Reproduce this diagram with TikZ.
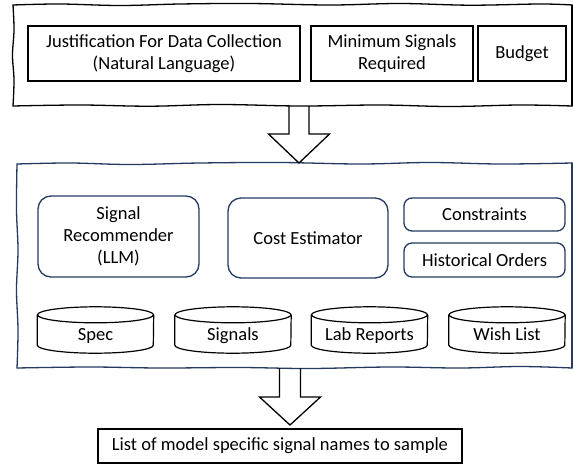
\documentclass[tikz,border=0pt]{standalone}
\usepackage{fontspec}
\setmainfont{Carlito}
\usetikzlibrary{calc}
\definecolor{navy}{RGB}{36,58,98}
\tikzset{
  sketch/.style={line width=1.3pt, line cap=round, line join=round},
  sqbox/.style={draw=black, line width=1.3pt, align=center, inner sep=0pt},
  rbox/.style={draw=navy, line width=1.3pt, rounded corners=13pt, align=center, inner sep=0pt},
  sbox/.style={draw=navy, line width=1.3pt, rounded corners=8pt, align=center, inner sep=0pt},
  cyltext/.style={inner sep=0pt, minimum width=116pt, minimum height=46pt},
  cyllabel/.style={anchor=base, inner sep=0pt},
  cylline/.style={draw=black, line width=1.2pt},
  blockarr/.style={draw=black, line width=1.3pt, line join=miter}
}
\newcommand{\cylinder}[1]{%
  \draw[cylline] ($(#1.north west)+(0,8)$) -- ($(#1.south west)+(0,-8)$)
    arc[start angle=180, end angle=360, x radius=58pt, y radius=8pt]
    -- ($(#1.north east)+(0,8)$);
  \draw[cylline] ($(#1.north)+(0,8)$) ellipse [x radius=58pt, y radius=8pt];
}
\begin{document}
\begin{tikzpicture}[x=1pt, y=-1pt, font=\fontsize{18.5}{22}\selectfont]
\useasboundingbox (0,0) rectangle (573,464);
\fill[white] (0,0) rectangle (573,464);

% ---- top container (sketchy) ----
\draw[sketch] plot[smooth, tension=0.6] coordinates {(13,5) (60,4) (120,5.5) (180,4) (250,3.5) (330,5) (400,3.5) (470,5.2) (540,4) (572,5)};
\draw[sketch] (572,5) -- (572,106);
\draw[sketch] plot[smooth, tension=0.6] coordinates {(572,106) (520,105) (450,106.5) (380,105) (300,106) (220,104.5) (150,106.2) (80,105) (13,106)};
\draw[sketch] plot[smooth, tension=0.6] coordinates {(13,106) (14,80) (12.5,55) (14,30) (13,5)};

\node[sqbox, minimum width=272pt, minimum height=55pt] (just) at (164,53.5) {Justification For Data Collection\\(Natural Language)};
\node[sqbox, minimum width=162pt, minimum height=55pt] (minsig) at (392,53.5) {Minimum Signals\\Required};
\node[sqbox, minimum width=88pt, minimum height=55pt] (budget) at (522,53.5) {Budget};

% ---- middle container (sketchy, navy) ----
\draw[sketch, navy] plot[smooth, tension=0.6] coordinates {(17,164) (70,163) (130,164.5) (200,163) (280,162.5) (360,164) (430,162.5) (500,164) (572,163)};
\draw[sketch, navy] (572,163) -- (572,368);
\draw[sketch, navy] plot[smooth, tension=0.6] coordinates {(572,368) (520,366.5) (460,368) (390,367) (310,368.5) (240,367.5) (160,368) (90,367) (17,368)};
\draw[sketch, navy] plot[smooth, tension=0.6] coordinates {(17,368) (18,330) (16.5,290) (18,250) (16.5,210) (17,164)};

\node[rbox, minimum width=161pt, minimum height=81pt] (rec) at (118.5,236.5) {Signal\\Recommender\\(LLM)};
\node[rbox, minimum width=160pt, minimum height=80pt] (cost) at (308,238) {Cost Estimator};
\node[sbox, minimum width=161pt, minimum height=33pt] (constr) at (484.5,214.5) {Constraints};
\node[sbox, minimum width=161pt, minimum height=34pt] (hist) at (484.5,260) {Historical Orders};

\node[cyltext] (spec) at (95.5,330) {};
\node[cyltext] (signals) at (233,330) {};
\node[cyltext] (lab) at (369.5,330) {};
\node[cyltext] (wish) at (507,330) {};
\cylinder{spec}\cylinder{signals}\cylinder{lab}\cylinder{wish}
\node[cyllabel] (speclbl) at ($(spec.center)+(0,10)$) {Spec};
\node[cyllabel] (siglbl) at ($(signals.center)+(0,10)$) {Signals};
\node[cyllabel] (lablbl) at ($(lab.center)+(0,10)$) {Lab Reports};
\node[cyllabel] (wishlbl) at ($(wish.center)+(0,10)$) {Wish List};

% ---- bottom output ----
\node[draw=black, line width=1.1pt, minimum width=364pt, minimum height=34pt, inner sep=0pt] (out) at (280,446) {List of model specific signal names to sample};

% ---- block arrows ----
\coordinate (a1s) at (299,106);
\coordinate (a1e) at (299,163);
\draw[blockarr] ($(a1s)+(-10,0)$) -- ($(a1e)+(-10,-29)$) -- ($(a1e)+(-30.5,-29)$) -- (a1e)
  -- ($(a1e)+(30.5,-29)$) -- ($(a1e)+(10,-29)$) -- ($(a1s)+(10,0)$);
\coordinate (a2s) at (290,368);
\coordinate (a2e) at (290,425);
\draw[blockarr] ($(a2s)+(-10.5,0)$) -- ($(a2e)+(-10.5,-28)$) -- ($(a2e)+(-30.5,-28)$) -- (a2e)
  -- ($(a2e)+(30.5,-28)$) -- ($(a2e)+(10.5,-28)$) -- ($(a2s)+(10.5,0)$);
\end{tikzpicture}
\end{document}
